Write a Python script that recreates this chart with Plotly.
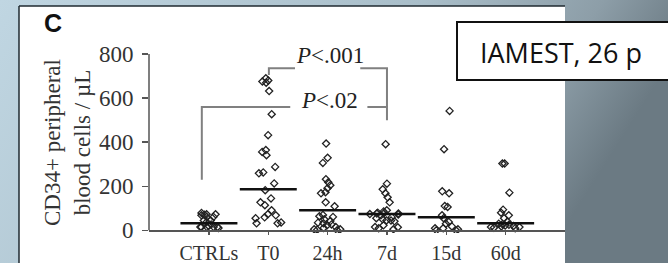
import base64
import plotly.graph_objects as go

# ---------------- data ----------------
categories = ["CTRLs", "T0", "24h", "7d", "15d", "60d"]
ctrls = [79, 73, 73, 71, 68, 61, 61, 45, 45, 38, 27, 20, 15, 15, 15, 15, 15, 11]
t0 = [690, 680, 675, 670, 632, 527, 432, 364, 356, 341, 288, 263, 259, 213,
      182, 145, 127, 114, 91, 73, 68, 59, 55, 36, 32, 32]
h24 = [394, 329, 306, 232, 218, 205, 191, 173, 168, 127, 109, 70, 64, 61,
       50, 42, 35, 32, 27, 23, 15, 11, 5, 5, 3, 0]
d7 = [391, 212, 186, 168, 150, 127, 91, 86, 80, 78, 76, 76, 74, 72, 68, 60,
      55, 50, 45, 45, 41, 23, 15, 14, 9, 5]
d15 = [542, 368, 177, 168, 110, 106, 68, 55, 38, 30, 18, 9, 9, 5, 0, 0]
d60 = [303, 303, 171, 94, 80, 68, 55, 40, 30, 28, 25, 22, 20, 18, 15, 15, 12, 10]
medians = [32, 186, 91, 74, 59, 32]
ytick_vals = [0, 200, 400, 600, 800]
p_labels = ["<i>P</i>&lt;.02", "<i>P</i>&lt;.001"]
groups = [ctrls, t0, h24, d7, d15, d60]

# ---------------- geometry helpers ----------------
W, H = 668, 263
ML, MR, MT, MB = 149, 103, 30, 30
PW = W - ML - MR
PH = H - MT - MB
YMIN, YMAX = -12, 909


def px(x):
    return (x - ML) / PW


def py(y):
    return (H - MB - y) / PH


SERIF = "Liberation Serif"

fig = go.Figure()

# points (library jitter)
for i, vals in enumerate(groups):
    fig.add_trace(go.Box(
        x=[i] * len(vals), y=vals, boxpoints="all", jitter=1, pointpos=0,
        width=0.62, line=dict(width=0, color="rgba(0,0,0,0)"),
        fillcolor="rgba(0,0,0,0)",
        marker=dict(symbol="diamond-open", size=5.5, color="#222",
                    line=dict(width=1.3, color="#222")),
        hoverinfo="skip", showlegend=False))

# median bars
mx, my = [], []
for i, m in enumerate(medians):
    mx += [i - 0.48, i + 0.48, None]
    my += [m, m, None]
fig.add_trace(go.Scatter(x=mx, y=my, mode="lines",
                         line=dict(color="#111", width=2.5),
                         hoverinfo="skip", showlegend=False))

# significance brackets
bx = [-0.12, -0.12, 1.37, None, 2.67, 3.0, 3.0, None,
      1.01, 1.01, 1.45, None, 2.55, 3.0, 3.0]
by = [230, 560, 560, None, 560, 560, 500, None,
      705, 736, 736, None, 736, 736, 560]
fig.add_trace(go.Scatter(x=bx, y=by, mode="lines",
                         line=dict(color="#808080", width=2),
                         hoverinfo="skip", showlegend=False))

annotations = [
    dict(x=2.03, y=590, xref="x", yref="y", text=p_labels[0], showarrow=False,
         font=dict(family=SERIF, size=23, color="#222"), yanchor="middle"),
    dict(x=2.04, y=795, xref="x", yref="y", text=p_labels[1], showarrow=False,
         font=dict(family=SERIF, size=23, color="#222"), yanchor="middle"),
    dict(x=px(53), y=py(23), xref="paper", yref="paper", text="<b>C</b>",
         showarrow=False, font=dict(family="Liberation Sans", size=25,
                                     color="#111"),
         xanchor="center", yanchor="middle"),
    dict(x=px(67), y=py(143), xref="paper", yref="paper",
         text="CD34+ peripheral<br>blood cells / µL", textangle=-90,
         showarrow=False, font=dict(family=SERIF, size=23, color="#333"),
         xanchor="center", yanchor="middle"),
    dict(x=px(561), y=py(53), xref="paper", yref="paper", text="IAMEST, 26 p",
         showarrow=False, font=dict(family="Open Sans", size=27, color="#111"),
         xanchor="center", yanchor="middle"),
]

shapes = [
    # white panel
    dict(type="rect", xref="paper", yref="paper", x0=px(19), x1=px(565),
         y0=py(H + 5), y1=py(6), fillcolor="white", line=dict(width=0),
         layer="below"),
    dict(type="line", xref="paper", yref="paper", x0=px(19), x1=px(565),
         y0=py(6), y1=py(6), line=dict(color="#1f2a30", width=1.5),
         layer="below"),
    dict(type="line", xref="paper", yref="paper", x0=px(19), x1=px(19),
         y0=py(6), y1=py(H + 5), line=dict(color="#1f2a30", width=1.5),
         layer="below"),
    # y axis line 0..800
    dict(type="line", xref="paper", yref="y", x0=0, x1=0, y0=0, y1=800,
         line=dict(color="#555", width=1.5)),
    # label box
    dict(type="rect", xref="paper", yref="paper", x0=px(457), x1=px(W + 5),
         y0=py(80), y1=py(22), fillcolor="white",
         line=dict(color="#111", width=2)),
]

svg = (f'<svg xmlns="http://www.w3.org/2000/svg" width="{W}" height="{H}">'
       '<defs><linearGradient id="g" x1="0" y1="0" x2="1" y2="0.25">'
       '<stop offset="0" stop-color="#c0d6e2"/>'
       '<stop offset="0.6" stop-color="#a9bec9"/>'
       '<stop offset="0.85" stop-color="#8d9ea8"/>'
       '<stop offset="1" stop-color="#6b7a83"/>'
       '</linearGradient></defs>'
       f'<rect width="{W}" height="{H}" fill="url(#g)"/></svg>')
src = "data:image/svg+xml;base64," + base64.b64encode(svg.encode()).decode()

fig.update_layout(
    template="none",
    width=W, height=H,
    margin=dict(l=ML, r=MR, t=MT, b=MB, pad=0, autoexpand=False),
    paper_bgcolor="#a9bec9", plot_bgcolor="rgba(0,0,0,0)",
    font=dict(family=SERIF, color="#333"),
    boxmode="overlay",
    images=[dict(source=src, xref="paper", yref="paper", x=px(0), y=py(0),
                 sizex=W / PW, sizey=H / PH, xanchor="left", yanchor="top",
                 sizing="stretch", layer="below")],
    shapes=shapes, annotations=annotations,
    xaxis=dict(range=[-1.01, 6.0], tickmode="array",
               tickvals=list(range(len(categories))), ticktext=categories,
               showgrid=False, zeroline=False, showline=True, automargin=False,
               linecolor="#555", linewidth=1.5, ticks="outside", ticklen=3,
               tickcolor="#555", tickwidth=1.2, anchor="free",
               position=(0 - YMIN) / (YMAX - YMIN), ticklabelstandoff=1,
               tickfont=dict(family=SERIF, size=20, color="#333")),
    yaxis=dict(range=[YMIN, YMAX], tickmode="array", tickvals=ytick_vals,
               showgrid=False, zeroline=False, showline=False, automargin=False,
               ticks="outside", ticklen=6, tickcolor="#555", tickwidth=1.5,
               ticklabelstandoff=4,
               tickfont=dict(family=SERIF, size=23, color="#333")),
)

fig.write_html("out.html", config={"displayModeBar": False, "staticPlot": True},
               post_script="document.body.style.margin='0';"
                           "document.body.style.overflow='hidden';")
